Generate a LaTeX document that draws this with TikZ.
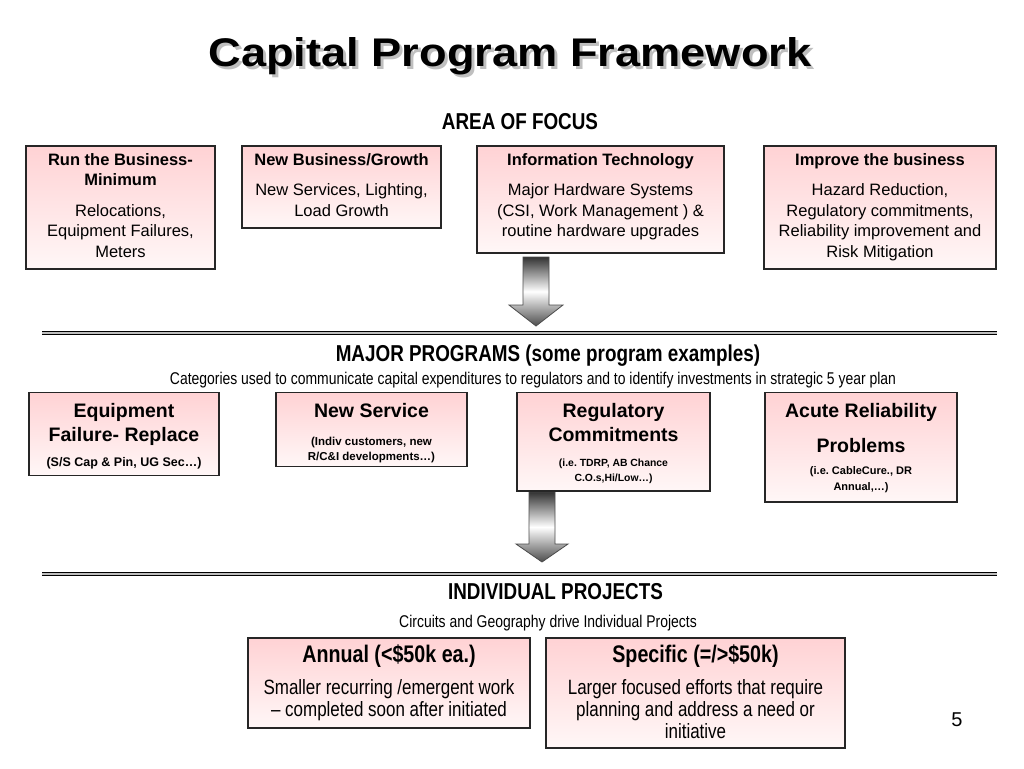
\documentclass[tikz,border=0pt]{standalone}
\usepackage{fontspec}
\setmainfont{Liberation Sans}
\newfontfamily\narrowfont{Liberation Sans}[FakeStretch=0.82,Ligatures=TeX]
\newfontfamily\titlefont{Liberation Sans}[FakeStretch=1.13]
\usepackage{tikz}
\definecolor{boxtop}{RGB}{255,210,212}
\definecolor{boxbot}{RGB}{255,247,247}
\definecolor{rulegray}{RGB}{190,190,190}
\frenchspacing

\begin{document}
\begin{tikzpicture}
[x=1pt,y=-1pt,
 box/.style={draw=black!85,line width=1.1pt,top color=boxtop,bottom color=boxbot,inner sep=0pt},
 focus/.style={anchor=base,align=flush center,inner sep=0pt,font=\fontsize{16.5}{20.5}\selectfont},
 prog/.style={anchor=base,align=flush center,inner sep=0pt,font=\bfseries\fontsize{19.5}{24}\selectfont},
 progsub/.style={anchor=base,align=flush center,inner sep=0pt,font=\bfseries\fontsize{11.5}{15.5}\selectfont},
 proj/.style={anchor=base,align=flush center,inner sep=0pt,font=\narrowfont\bfseries\fontsize{24}{28}\selectfont},
 projsub/.style={anchor=base,align=flush center,inner sep=0pt,font=\narrowfont\fontsize{20.7}{22.2}\selectfont},
 head/.style={anchor=base,inner sep=0pt,font=\narrowfont\bfseries\fontsize{23}{27}\selectfont},
 note/.style={anchor=base,inner sep=0pt,font=\narrowfont\fontsize{17}{20}\selectfont},
 bigarrow/.style={draw=black!70,line width=0.8pt,top color=black!80,bottom color=black!70,middle color=white},
 rule/.style={line width=4.6pt,draw=black}]
\useasboundingbox (0,0) rectangle (1024,768);

% title
\node[anchor=base,inner sep=0pt,text=black!25,font=\titlefont\bfseries\fontsize{40}{44}\selectfont]
  (title shadow) at (513,70) {Capital Program Framework};
\node[anchor=base,inner sep=0pt,font=\titlefont\bfseries\fontsize{40}{44}\selectfont]
  (title) at (510,66.7) {Capital Program Framework};

% area of focus
\node[head] (focus head) at (520,129) {AREA OF FOCUS};
\node[box,minimum width=189pt,minimum height=123pt] (run) at (120.5,207.5) {};
\node[box,minimum width=199pt,minimum height=82pt] (grow) at (341.5,187) {};
\node[box,minimum width=247pt,minimum height=107pt] (tech) at (600.5,199.5) {};
\node[box,minimum width=232pt,minimum height=123pt] (improve) at (880,207.5) {};

\node[focus,text width=185pt] (run text) at ([yshift=-20pt]run.north)
  {\textbf{Run the Business-}\\\textbf{Minimum}\\[10pt]Relocations,\\Equipment Failures,\\Meters};
\node[focus,text width=195pt] (grow text) at ([yshift=-20pt]grow.north)
  {\textbf{New Business/Growth}\\[10pt]New Services, Lighting,\\Load Growth};
\node[focus,text width=243pt] (tech text) at ([yshift=-20pt]tech.north)
  {\textbf{Information Technology}\\[10pt]Major Hardware Systems\\(CSI, Work Management ) \&\\routine hardware upgrades};
\node[focus,text width=228pt] (improve text) at ([yshift=-20pt]improve.north)
  {\textbf{Improve the business}\\[10pt]Hazard Reduction,\\Regulatory commitments,\\Reliability improvement and\\Risk Mitigation};

\draw[bigarrow] (523,257) -- (549,257) -- (549,305) -- (563,305) -- (536,326)
  -- (509,305) -- (523,305) -- cycle;
\draw[rule] (42,332.8) -- (997,332.8);
\draw[line width=1.6pt,rulegray] (42,332.8) -- (997,332.8);

% major programs
\node[head] (prog head) at (548,361) {MAJOR PROGRAMS (some program examples)};
\node[note] (prog note) at (533,384.5) {Categories used to communicate capital expenditures to regulators and to identify investments in strategic 5 year plan};

\draw[bigarrow] (529,492) -- (555,492) -- (555,544) -- (568,544) -- (542,562)
  -- (516,544) -- (529,544) -- cycle;

\node[box,minimum width=190pt,minimum height=83pt] (equip) at (124,434) {};
\node[box,minimum width=191pt,minimum height=74pt] (service) at (371.5,429.5) {};
\node[box,minimum width=193pt,minimum height=98.5pt] (regul) at (613.5,441.75) {};
\node[box,minimum width=192pt,minimum height=109.5pt] (acute) at (861,447.25) {};

\node[prog,text width=186pt] (equip text) at ([yshift=-25.5pt]equip.north) {Equipment\\Failure- Replace};
\node[progsub,text width=186pt,font=\bfseries\fontsize{12.5}{16}\selectfont] (equip sub) at ([yshift=-74.5pt]equip.north) {(S/S Cap \& Pin, UG Sec\ldots)};
\node[prog,text width=187pt] (service text) at ([yshift=-25.5pt]service.north) {New Service};
\node[progsub,text width=187pt] (service sub) at ([yshift=-53.5pt]service.north) {(Indiv customers, new\\R/C\&I developments\ldots)};
\node[prog,text width=189pt] (regul text) at ([yshift=-25.5pt]regul.north) {Regulatory\\Commitments};
\node[progsub,text width=189pt,font=\bfseries\fontsize{10.4}{15.5}\selectfont] (regul sub) at ([yshift=-74.5pt]regul.north) {(i.e. TDRP, AB Chance\\C.O.s,Hi/Low\ldots)};
\node[prog,text width=188pt,font=\bfseries\fontsize{19.5}{35.5}\selectfont] (acute text) at ([yshift=-25.5pt]acute.north) {Acute Reliability\\Problems};
\node[progsub,text width=188pt,font=\bfseries\fontsize{11}{16}\selectfont] (acute sub) at ([yshift=-82.5pt]acute.north) {(i.e. CableCure., DR\\Annual,\ldots)};

\draw[rule] (42,574) -- (997,574);
\draw[line width=1.6pt,rulegray] (42,574) -- (997,574);

% individual projects
\node[head] (proj head) at (555.5,599) {INDIVIDUAL PROJECTS};
\node[note] (proj note) at (548,627) {Circuits and Geography drive Individual Projects};

\node[box,minimum width=282pt,minimum height=90pt] (annual) at (389,683) {};
\node[box,minimum width=299pt,minimum height=110pt] (specific) at (695.5,693) {};

\node[proj,text width=278pt] (annual text) at ([yshift=-25pt]annual.north) {Annual (<\$50k ea.)};
\node[projsub,text width=278pt] (annual sub) at ([yshift=-57pt]annual.north) {Smaller recurring /emergent work\\– completed soon after initiated};
\node[proj,text width=295pt] (specific text) at ([yshift=-25pt]specific.north) {Specific (=/>\$50k)};
\node[projsub,text width=295pt] (specific sub) at ([yshift=-57pt]specific.north) {Larger focused efforts that require\\planning and address a need or\\initiative};

\node[anchor=base,inner sep=0pt,font=\fontsize{20}{24}\selectfont] (page) at (957,726) {5};
\end{tikzpicture}
\end{document}
